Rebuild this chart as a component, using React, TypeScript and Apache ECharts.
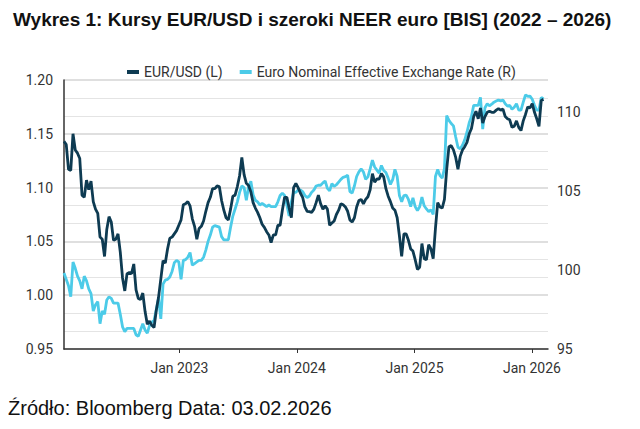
import React, { useEffect, useRef } from "react";
import * as echarts from "echarts";

const TITLE = "Wykres 1: Kursy EUR/USD i szeroki NEER euro [BIS] (2022 – 2026)";
const SOURCE = "Źródło: Bloomberg Data: 03.02.2026";
const SERIES_NAMES = ["EUR/USD (L)", "Euro Nominal Effective Exchange Rate (R)"];

// weekly observations (Fridays) starting on this date
const FIRST_WEEK = [2022, 0, 7];
const X_MIN = [2022, 0, 7];
const X_MAX = [2026, 1, 20];
const TICK_YEARS = [2023, 2024, 2025, 2026];

const eurusd = [
  1.143, 1.140, 1.117, 1.116, 1.150, 1.135, 1.132, 1.127, 1.093, 1.091,
  1.107, 1.098, 1.106, 1.087, 1.080, 1.076, 1.054, 1.052, 1.036, 1.061,
  1.073, 1.068, 1.051, 1.052, 1.057, 1.040, 1.016, 1.004, 1.020, 1.021,
  1.020, 1.029, 1.005, 0.997, 0.996, 1.002, 0.985, 0.973, 0.976, 0.972,
  0.970, 0.986, 0.998, 1.015, 1.032, 1.030, 1.043, 1.053, 1.054, 1.057,
  1.060, 1.065, 1.070, 1.084,
  1.085, 1.087, 1.083, 1.071, 1.064, 1.052,
  1.062, 1.064, 1.069, 1.078, 1.086, 1.091, 1.099, 1.099, 1.1015, 1.101,
  1.088, 1.079, 1.072, 1.070, 1.080, 1.092, 1.093, 1.101, 1.111, 1.128,
  1.112, 1.104, 1.102, 1.096, 1.086, 1.081, 1.077, 1.072, 1.066, 1.063,
  1.059, 1.056, 1.049, 1.056, 1.056, 1.065, 1.065, 1.079, 1.091, 1.091,
  1.081, 1.072, 1.100, 1.104, 1.100, 1.095, 1.091,
  1.082, 1.078, 1.0776,
  1.077, 1.080, 1.086, 1.093, 1.085, 1.080, 1.083, 1.080, 1.065, 1.067,
  1.069, 1.075, 1.079, 1.085, 1.084, 1.082, 1.078, 1.070, 1.068, 1.072,
  1.082, 1.088, 1.089, 1.085, 1.089, 1.0915, 1.098, 1.113, 1.105, 1.108,
  1.108, 1.113, 1.110, 1.099, 1.092, 1.087, 1.081, 1.079, 1.072, 1.055,
  1.036, 1.057, 1.057, 1.051, 1.043, 1.041, 1.033, 1.024, 1.026,
  1.048, 1.034, 1.033, 1.047, 1.043, 1.034, 1.062, 1.086, 1.082, 1.081, 1.089,
  1.117, 1.138, 1.139, 1.135, 1.128, 1.117, 1.129, 1.135, 1.138, 1.142,
  1.150, 1.155, 1.166, 1.171, 1.164, 1.174, 1.160, 1.166, 1.170, 1.171,
  1.170, 1.170, 1.172, 1.1735, 1.172, 1.173, 1.166, 1.164, 1.163, 1.156,
  1.157, 1.162, 1.156, 1.153, 1.162, 1.168, 1.175, 1.174, 1.178, 1.170,
  1.164, 1.157, 1.181, 1.182,
];

const neer = [
  99.8, 99.4, 99.0, 98.3, 100.5, 100.1, 99.6, 99.3, 98.8, 99.6,
  99.3, 98.8, 98.5, 97.4, 97.8, 98.0, 96.6, 97.4, 97.2, 98.1,
  98.3, 98.2, 97.9, 97.9, 97.9, 97.2, 96.4, 96.1, 96.3, 96.3,
  96.3, 96.3, 95.9, 95.8, 96.2, 96.6, 96.2, 96.0, 96.5, 96.7,
  96.8, 97.5, 98.2, 96.9, 99.1, 99.35, 99.4, 99.55, 99.9, 100.45,
  100.6, 100.5, 99.4, 100.6,
  100.65, 100.8, 101.1, 100.3, 100.4, 100.5,
  100.6, 100.6, 100.8, 101.25, 101.8, 102.2, 102.7, 102.8, 102.75, 102.7,
  102.1, 101.9, 101.9, 101.9, 102.7, 103.4, 103.85, 104.3, 104.9, 105.3,
  105.2, 104.4, 105.25, 105.6, 104.75, 104.4, 104.3, 104.1, 104.2, 104.1,
  104.0, 104.1, 104.0, 104.0, 104.0, 104.3, 104.7, 104.85, 104.7, 104.1,
  103.4, 104.3, 104.9, 104.9, 105.05, 105.05, 104.95,
  104.7, 104.57, 104.67,
  104.9, 105.05, 105.3, 105.35, 105.35, 105.5, 105.62, 105.15, 105.0, 105.45,
  105.27, 105.38, 105.55, 105.72, 105.85, 105.89, 105.98, 104.95, 104.86, 105.3,
  105.9, 106.2, 106.38, 106.2, 105.72, 105.88, 106.38, 106.94, 106.5, 106.31,
  106.12, 106.6, 106.28, 106.15, 105.8, 105.4, 105.7, 106.35, 105.9, 104.7,
  104.3, 104.7, 104.73, 104.45, 104.0, 104.55, 104.0, 103.75, 103.99,
  104.6, 104.05, 103.85, 103.68, 103.8, 103.5, 105.9, 106.35, 105.96, 105.8, 106.4,
  109.75, 109.45, 109.25, 109.1, 108.4, 107.75, 107.65, 107.88, 108.22, 108.7,
  109.3, 109.7, 110.4, 110.4, 110.4, 110.9, 108.9, 110.25, 110.5, 110.37,
  110.47, 110.6, 110.67, 110.74, 110.68, 110.73, 110.5, 110.35, 110.4, 110.15,
  110.28, 110.5, 110.1, 110.1, 110.6, 111.05, 110.97, 110.98, 110.78, 110.4,
  110.1, 110.1, 110.9, 110.8,
];

const weekDates = eurusd.map((_, i) =>
  new Date(FIRST_WEEK[0], FIRST_WEEK[1], FIRST_WEEK[2] + 7 * i).getTime()
);

export default function App() {
  const ref = useRef<HTMLDivElement>(null);

  useEffect(() => {
    if (!ref.current) return;
    const chart = echarts.init(ref.current, null, { renderer: "svg" });
    const tickValues = TICK_YEARS.map((y) => new Date(y, 0, 1).getTime());
    const axisText = { fontFamily: "Roboto", fontSize: 14, color: "#333" };

    chart.setOption({
      animation: false,
      textStyle: { fontFamily: "Roboto" },
      title: {
        text: TITLE,
        left: 8,
        top: 5,
        textStyle: {
          fontFamily: "Liberation Sans",
          fontWeight: "bold",
          fontSize: 19,
          color: "#111",
        },
      },
      legend: {
        data: SERIES_NAMES,
        left: 122,
        top: 60,
        icon: "rect",
        itemWidth: 12,
        itemHeight: 4,
        itemGap: 17,
        textStyle: { fontFamily: "Roboto", fontSize: 14, color: "#333" },
      },
      grid: { left: 64, right: 92, top: 80, bottom: 80 },
      xAxis: {
        type: "value",
        min: new Date(X_MIN[0], X_MIN[1], X_MIN[2]).getTime(),
        max: new Date(X_MAX[0], X_MAX[1], X_MAX[2]).getTime(),
        axisLine: { show: true, lineStyle: { color: "#333", width: 1.5 } },
        axisTick: { show: true, length: 4, customValues: tickValues, lineStyle: { color: "#333" } },
        axisLabel: {
          ...axisText,
          margin: 12,
          customValues: tickValues,
          formatter: (v: number) => "Jan " + new Date(v).getFullYear(),
        },
        splitLine: { show: false },
      },
      yAxis: [
        {
          type: "value",
          position: "left",
          min: 0.95,
          max: 1.2,
          interval: 0.05,
          axisLine: { show: true, lineStyle: { color: "#333", width: 1.5 } },
          axisTick: { show: false },
          axisLabel: { ...axisText, margin: 11, formatter: (v: number) => v.toFixed(2) },
          splitLine: { show: true, lineStyle: { color: "#d4d4d4", width: 1.5 } },
          minorTick: { show: false, splitNumber: 3 },
          minorSplitLine: { show: true, lineStyle: { color: "#e4e4e4", width: 1 } },
        },
        {
          type: "value",
          position: "right",
          min: 95,
          max: 112,
          interval: 5,
          axisLine: { show: false },
          axisTick: { show: false },
          axisLabel: { ...axisText, margin: 9, showMaxLabel: false },
          splitLine: { show: false },
        },
      ],
      series: [
        {
          name: SERIES_NAMES[0],
          type: "line",
          yAxisIndex: 0,
          data: weekDates.map((d, i) => [d, eurusd[i]]),
          showSymbol: false,
          symbol: "none",
          z: 3,
          lineStyle: { color: "#0e3b52", width: 2.8 },
          itemStyle: { color: "#0e3b52" },
        },
        {
          name: SERIES_NAMES[1],
          type: "line",
          yAxisIndex: 1,
          data: weekDates.map((d, i) => [d, neer[i]]),
          showSymbol: false,
          symbol: "none",
          z: 2,
          lineStyle: { color: "#4ccbe8", width: 2.8 },
          itemStyle: { color: "#4ccbe8" },
        },
      ],
      graphic: [
        {
          type: "text",
          left: 8,
          top: 398,
          style: {
            text: SOURCE,
            font: '20px "Liberation Sans"',
            fill: "#111",
          },
        },
      ],
    });

    return () => chart.dispose();
  }, []);

  return (
    <div
      ref={ref}
      style={{ position: "fixed", left: 0, top: 0, width: 640, height: 429, background: "#fff" }}
    />
  );
}
